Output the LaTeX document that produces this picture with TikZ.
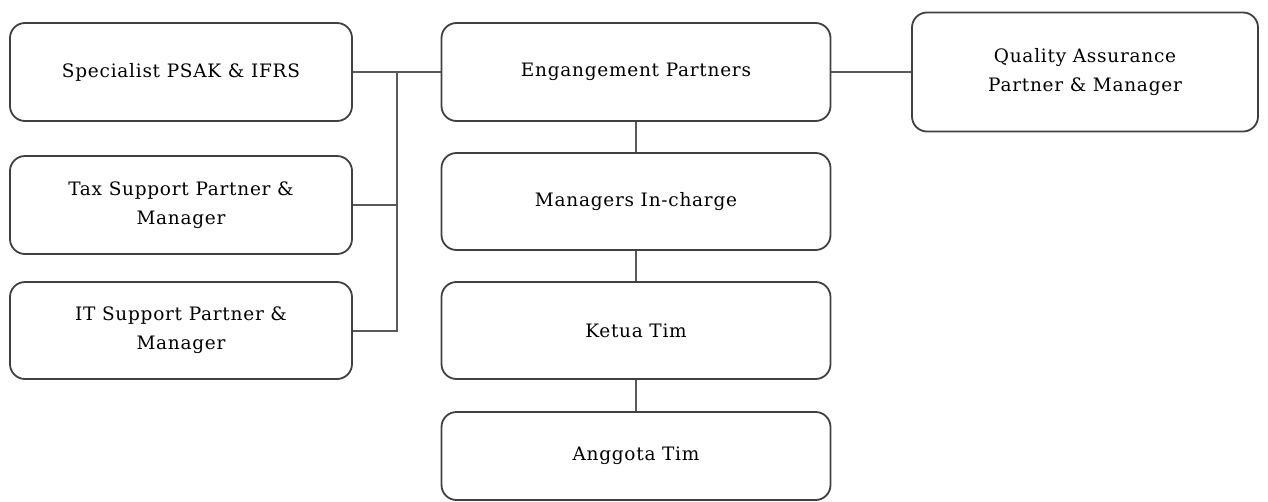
\documentclass[tikz,border=0pt]{standalone}
\usepackage{fontspec}
\setmainfont{DejaVu Serif}[LetterSpace=4]
\begin{document}
\begin{tikzpicture}[x=1pt,y=-1pt,
	box/.style={draw=black!75,line width=1.8pt,rounded corners=15pt,inner sep=0pt,align=center,font=\fontsize{18.5}{29}\selectfont},
	link/.style={draw=black!65,line width=2pt}]
	\useasboundingbox (0,0) rectangle (1268,501);
	% left column
	\node[box,minimum width=342,minimum height=98] at (181, 72)   (spec) {Specialist PSAK \& IFRS};
	\node[box,minimum width=342,minimum height=98] at (181, 205)   (tax) {Tax Support Partner \&\\Manager};
	\node[box,minimum width=342,minimum height=97] at (181, 330.5)   (it) {IT Support Partner \&\\Manager};
	% middle column
	\node[box,minimum width=389,minimum height=98] at (636, 72)   (eng) {Engangement Partners};
	\node[box,minimum width=389,minimum height=97] at (636, 201.5)   (mgr) {Managers In-charge};
	\node[box,minimum width=389,minimum height=97] at (636, 330.5)   (ketua) {Ketua Tim};
	\node[box,minimum width=389,minimum height=88] at (636, 456)   (anggota) {Anggota Tim};
	% right
	\node[box,minimum width=346,minimum height=119] at (1085, 72)   (qa) {Quality Assurance\\Partner \& Manager};
	%
	\coordinate (bus) at (397, 72);
	\draw[link] (spec.east) -- (eng.west);
	\draw[link] (tax.east) -| (bus);
	\draw[link] (it.east) -| (bus);
	\draw[link] (eng.east) -- (qa.west);
	\draw[link] (eng) -- (mgr);
	\draw[link] (mgr) -- (ketua);
	\draw[link] (ketua) -- (anggota);
\end{tikzpicture}
\end{document}
